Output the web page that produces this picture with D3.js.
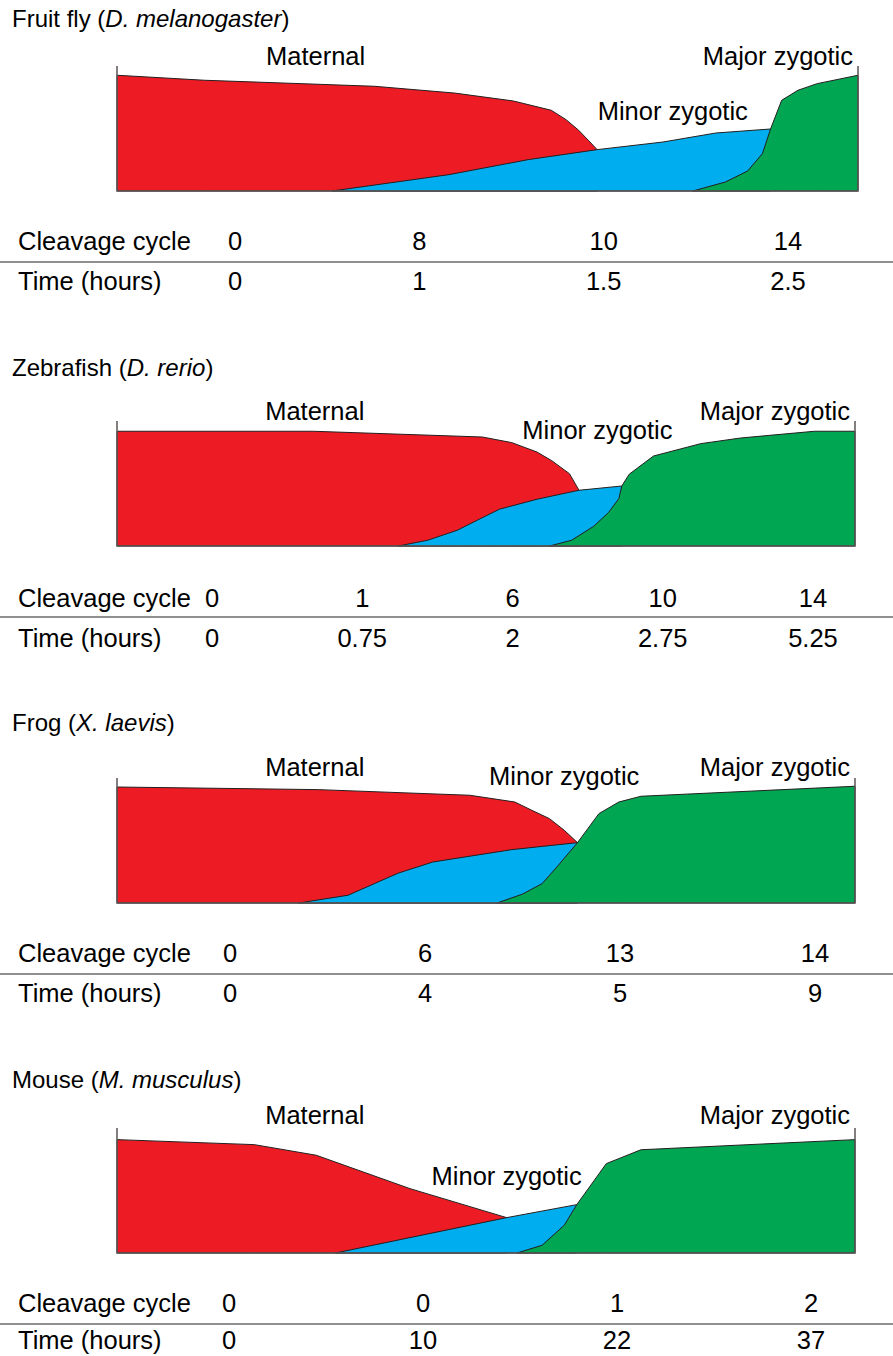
<!DOCTYPE html>
<html>
<head>
<meta charset="utf-8">
<script src="https://cdn.jsdelivr.net/npm/d3@7"></script>
<style>
  body { margin: 0; background: #fff; }
  svg { display: block; font-family: Arial, "Liberation Sans", sans-serif; }
</style>
</head>
<body>
<script>
// relative abundance (0-100) against relative developmental time (0-100)
const flyMaternal = [[0, 92.6], [11.8, 88.6], [34.7, 83.8], [45.5, 78.4], [53.5, 72], [58.6, 64.6], [60.6, 57.1], [62.3, 48.6], [63.6, 40.6], [64.8, 33.1]];
const flyMinor = [[29, 0], [44.8, 13.1], [55.5, 25.1], [64.8, 33.1], [73.7, 39.2], [80.8, 46.4], [88.2, 49.6]];
const flyMajor = [[77.7, 0], [82.1, 7.2], [85.1, 16], [87.1, 29.9], [88.2, 49.6], [89.7, 72.6], [91.9, 80.6], [94.5, 85.9], [100, 92.6]];
const flyCycles = ["0", "8", "10", "14"];
const flyHours = ["0", "1", "1.5", "2.5"];

const fishMaternal = [[0, 91.8], [26.6, 91.8], [49.5, 87.2], [53.5, 82.7], [56.9, 75.2], [58.9, 68.3], [61.3, 57.9], [62.6, 44.6]];
const fishMinor = [[38.1, 0], [42.1, 4.6], [46.1, 12.6], [48.8, 20.6], [51.8, 29.4], [56.9, 37.4], [62.6, 44.6], [68.4, 48]];
const fishMajor = [[58.6, 0], [61.6, 4.6], [64.6, 15.8], [66.6, 26.8], [68, 37.9], [68.4, 48], [69.4, 57.4], [72.7, 72], [79.1, 81.9], [84.5, 86.4], [94.5, 91.8], [100, 91.8]];
const fishCycles = ["0", "1", "6", "10", "14"];
const fishHours = ["0", "0.75", "2", "2.75", "5.25"];

const frogMaternal = [[0, 92.8], [27.3, 90.7], [47.8, 86.2], [53.9, 80.8], [56.2, 74.2], [58.6, 67.5], [60.6, 58.2], [62.4, 48.3]];
const frogMinor = [[24.6, 0], [31.3, 6.2], [38.1, 23.9], [42.8, 32.8], [53.5, 42.7], [62.4, 48.3]];
const frogMajor = [[51.5, 0], [54.9, 7], [57.6, 15.5], [59.6, 28.8], [62.4, 48.3], [65.3, 71.5], [68, 80.8], [71, 85.4], [100, 93.4]];
const frogCycles = ["0", "6", "13", "14"];
const frogHours = ["0", "4", "5", "9"];

const mouseMaternal = [[0, 90.7], [18.6, 86.7], [27, 78.2], [39.7, 51.5], [52.8, 28.3]];
const mouseMinor = [[29.6, 0], [52.8, 28.3], [62.3, 38.7]];
const mouseMajor = [[54.2, 0], [57.6, 6.2], [60.6, 22.2], [62.3, 38.7], [66.3, 71.5], [71, 82.6], [100, 90.7]];
const mouseCycles = ["0", "0", "1", "2"];
const mouseHours = ["0", "10", "22", "37"];

const panels = [
  { common: "Fruit fly", latin: "D. melanogaster", maternal: flyMaternal, minor: flyMinor, major: flyMajor,
    cycles: flyCycles, hours: flyHours, base: 191, right: 858, cols: [235, 788], minorAt: [75, 56.8],
    titleDy: 164, labelDy: 126, rowA: 59, rowB: 99 },
  { common: "Zebrafish", latin: "D. rerio", maternal: fishMaternal, minor: fishMinor, major: fishMajor,
    cycles: fishCycles, hours: fishHours, base: 546, right: 855, cols: [212, 813], minorAt: [65.1, 85.6],
    titleDy: 170, labelDy: 126, rowA: 61, rowB: 101 },
  { common: "Frog", latin: "X. laevis", maternal: frogMaternal, minor: frogMinor, major: frogMajor,
    cycles: frogCycles, hours: frogHours, base: 903, right: 855, cols: [230, 815], minorAt: [60.6, 94.4],
    titleDy: 172, labelDy: 127, rowA: 59, rowB: 99 },
  { common: "Mouse", latin: "M. musculus", maternal: mouseMaternal, minor: mouseMinor, major: mouseMajor,
    cycles: mouseCycles, hours: mouseHours, base: 1253, right: 855, cols: [229, 811], minorAt: [52.8, 54.4],
    titleDy: 165, labelDy: 129, rowA: 59, rowB: 96 }
];

const width = 893, height = 1356;
const colors = { maternal: "#ed1c24", minor: "#00aeef", major: "#00a651" };
const labelSize = 25.5;

const svg = d3.select("body").append("svg")
    .attr("width", width)
    .attr("height", height);

panels.forEach(p => {
  const x = d3.scaleLinear().domain([0, 100]).range([117, p.right]);
  const y = d3.scaleLinear().domain([0, 100]).range([p.base, p.base - 125]);

  const g = svg.append("g");

  // title, species name in italics
  const title = g.append("text")
      .attr("x", 12)
      .attr("y", p.base - p.titleDy)
      .style("font-size", "24px")
      .attr("fill", "#000");
  title.append("tspan").text(p.common + " (");
  title.append("tspan").style("font-style", "italic").text(p.latin);
  title.append("tspan").text(")");

  const area = d3.area()
      .x(d => x(d[0]))
      .y0(y(0))
      .y1(d => y(d[1]));

  // draw maternal first, then minor and major on top
  ["maternal", "minor", "major"].forEach(k => {
    g.append("path")
        .datum(p[k])
        .attr("d", area)
        .attr("fill", colors[k])
        .attr("stroke", "#231f20")
        .attr("stroke-width", 1)
        .attr("stroke-linejoin", "round");
  });

  // frame: two short verticals and the base line
  g.append("path")
      .attr("d", `M${x(0)},${y(100)}V${y(0)}H${x(100)}V${y(100)}`)
      .attr("fill", "none")
      .attr("stroke", "#5b5556")
      .attr("stroke-width", 1.5);

  g.append("text")
      .attr("x", x(26.8)).attr("y", y(0) - p.labelDy)
      .attr("text-anchor", "middle")
      .style("font-size", labelSize + "px")
      .text("Maternal");
  g.append("text")
      .attr("x", x(100) - 5).attr("y", y(0) - p.labelDy)
      .attr("text-anchor", "end")
      .style("font-size", labelSize + "px")
      .text("Major zygotic");
  g.append("text")
      .attr("x", x(p.minorAt[0])).attr("y", y(p.minorAt[1]))
      .attr("text-anchor", "middle")
      .style("font-size", labelSize + "px")
      .text("Minor zygotic");

  // table of cleavage cycle / time
  const col = d3.scalePoint().domain(d3.range(p.cycles.length)).range(p.cols);
  const rowA = p.base + p.rowA, rowB = p.base + p.rowB, rule = p.base + 71;

  g.append("text").attr("x", 18).attr("y", rowA).style("font-size", labelSize + "px").text("Cleavage cycle");
  g.append("text").attr("x", 18).attr("y", rowB).style("font-size", labelSize + "px").text("Time (hours)");

  g.append("line")
      .attr("x1", 0).attr("x2", width)
      .attr("y1", rule).attr("y2", rule)
      .attr("stroke", "#6b6b6b")
      .attr("stroke-width", 1.5);

  g.selectAll("text.cyc")
    .data(p.cycles)
    .join("text")
      .attr("class", "cyc")
      .attr("x", (d, i) => col(i))
      .attr("y", rowA)
      .attr("text-anchor", "middle")
      .style("font-size", labelSize + "px")
      .text(d => d);

  g.selectAll("text.hrs")
    .data(p.hours)
    .join("text")
      .attr("class", "hrs")
      .attr("x", (d, i) => col(i))
      .attr("y", rowB)
      .attr("text-anchor", "middle")
      .style("font-size", labelSize + "px")
      .text(d => d);
});
</script>
</body>
</html>
